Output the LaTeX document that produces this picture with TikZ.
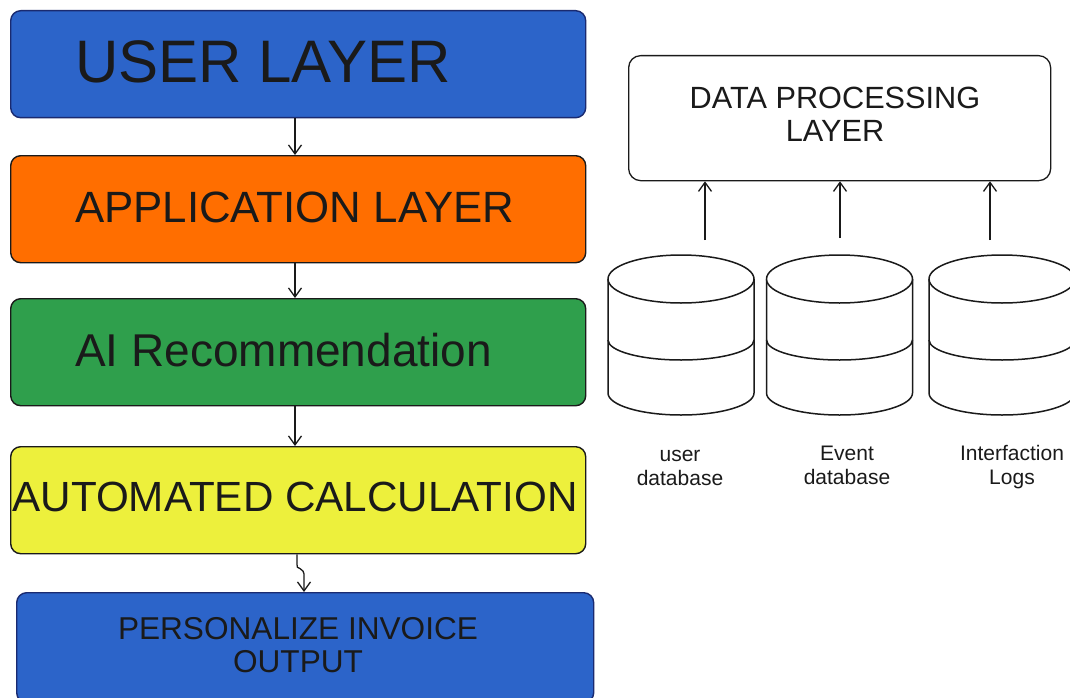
\documentclass[tikz,border=0pt]{standalone}
\usepackage{fontspec}
\setmainfont{Liberation Sans}
\usetikzlibrary{arrows.meta,calc}
\definecolor{ublue}{HTML}{2C64C9}
\definecolor{uorange}{HTML}{FF6E00}
\definecolor{ugreen}{HTML}{2F9F4C}
\definecolor{uyellow}{HTML}{EDF03C}
\definecolor{ink}{HTML}{1A1A1A}
\definecolor{navy}{HTML}{1A2A70}
\begin{document}
\begin{tikzpicture}[x=1pt,y=-1pt,
  layer/.style={draw=ink, line width=1.4pt, rounded corners=10pt, minimum width=575pt,
    minimum height=107pt, inner sep=0pt, anchor=north west},
  txt/.style={inner sep=0pt, text=ink},
  arr/.style={draw=ink, line width=1.3pt, -{Straight Barb[length=9pt,width=13pt,line width=1.3pt]}},
  cyl/.style={draw=ink, line width=1.5pt},
  dbcyl/.pic={
    \fill[white] (-73,0) -- (-73,114) arc[start angle=180,end angle=0,x radius=73,y radius=22] -- (73,0) -- cycle;
    \draw[cyl] (-73,0) -- (-73,114) arc[start angle=180,end angle=0,x radius=73,y radius=22] -- (73,0);
    \draw[cyl,fill=white] (0,0) ellipse[x radius=73, y radius=24];
    \draw[cyl] (-73,61) arc[start angle=180,end angle=0,x radius=73,y radius=20];
  }
]
\useasboundingbox[fill=white] (0,0) rectangle (1070,698);

% left column
\node[layer, fill=ublue, draw=navy] (user) at (10,10) {};
\node[layer, fill=uorange] (app) at (10,155) {};
\node[layer, fill=ugreen] (ai) at (10,298) {};
\node[layer, fill=uyellow] (auto) at (10,446) {};
\node[layer, fill=ublue, draw=navy, minimum width=577pt, minimum height=110pt] (pers) at (16,592) {};

\node[txt, anchor=west, font=\fontsize{60}{62}\selectfont] (tuser) at (75,62) {USER LAYER};
\node[txt, anchor=west, font=\fontsize{43.8}{46}\selectfont] (tapp) at (75,207) {APPLICATION LAYER};
\node[txt, anchor=west, font=\fontsize{46}{48}\selectfont] (tai) at (75,350) {AI Recommendation};
\node[txt, font=\fontsize{42.2}{44}\selectfont] (tauto) at (295,497) {AUTOMATED CALCULATION};
\node[txt, align=center, font=\fontsize{31.6}{33}\selectfont] (tpers) at (298,645) {PERSONALIZE INVOICE\\OUTPUT};

\coordinate (ax) at (295,0);
\draw[arr] (user.south -| ax) -- (app.north -| ax);
\draw[arr] (app.south -| ax) -- (ai.north -| ax);
\draw[arr] (ai.south -| ax) -- (auto.north -| ax);
\coordinate (wv) at (297,0);
\coordinate (wv2) at (304,0);
\draw[arr] (auto.south -| wv) -- ++(0,10) .. controls (295,570) and (305,566) .. (304,577) -- (pers.north -| wv2);

% right column
\node[draw=ink, line width=1.3pt, fill=white, rounded corners=12pt, minimum width=422pt,
  minimum height=125pt, anchor=north west, inner sep=0pt] (dpl) at (628,55) {};
\node[txt, align=center, font=\fontsize{30.7}{33}\selectfont] (tdpl) at (835,114) {DATA PROCESSING\\LAYER};

\pic (c1) at (681,279) {dbcyl};
\pic (c2) at (839.5,279) {dbcyl};
\pic (c3) at (1002,279) {dbcyl};

\coordinate (s1) at (705,240);
\coordinate (s2) at (840,238);
\coordinate (s3) at (990,240);
\draw[arr] (s1) -- (s1 |- dpl.south);
\draw[arr] (s2) -- (s2 |- dpl.south);
\draw[arr] (s3) -- (s3 |- dpl.south);

\node[txt, align=center, font=\fontsize{21}{24}\selectfont] (l1) at (680,468) {user\\database};
\node[txt, align=center, font=\fontsize{21}{24}\selectfont] (l2) at (847,465) {Event\\database};
\node[txt, align=center, font=\fontsize{21}{24}\selectfont] (l3) at (1012,467) {Interfaction\\Logs};
\end{tikzpicture}
\end{document}
